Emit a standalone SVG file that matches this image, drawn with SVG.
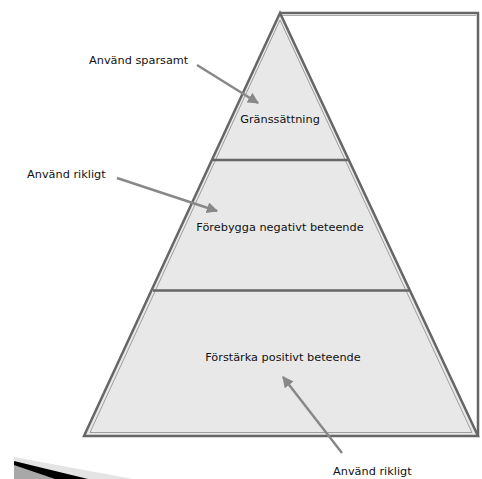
<svg xmlns="http://www.w3.org/2000/svg" width="482" height="479" viewBox="0 0 482 479">
<style>
.lbl{font-family:"DejaVu Sans","Verdana",sans-serif;font-size:11.3px;fill:#111}
.edge{fill:none;stroke:#666;stroke-width:2.5;stroke-linejoin:miter}
.inner{fill:none;stroke:#8a8a8a;stroke-width:0.8}
.arr{stroke:#888;stroke-width:2.5;fill:none;marker-end:url(#ah)}
</style>
<defs>
<marker id="ah" viewBox="0 0 10 10" refX="9" refY="5" markerWidth="4.5" markerHeight="4.5" orient="auto" markerUnits="strokeWidth">
<path d="M0,0 L10,5 L0,10 z" fill="#888"/>
</marker>
</defs>
<rect width="482" height="479" fill="#fff"/>
<g id="frame">
<polyline class="edge" points="280,13 478,13 478,436"/>
<line x1="281" y1="15.5" x2="476" y2="15.5" stroke="#aaa" stroke-width="1"/>
</g>
<g id="pyramid">
<polygon points="280,13 84,436 478,436" fill="#e8e8e8"/>
<polygon class="inner" points="280,20 90,432.5 472,432.5"/>
<polygon class="edge" points="280,13 84,436 478,436"/>
</g>
<g id="level-top">
<line class="edge" x1="213" y1="160" x2="349" y2="160"/>
<text class="lbl" x="280" y="123" text-anchor="middle">Gränssättning</text>
</g>
<g id="level-middle">
<line class="edge" x1="153" y1="290.5" x2="410" y2="290.5"/>
<text class="lbl" x="280" y="231" text-anchor="middle">Förebygga negativt beteende</text>
</g>
<g id="level-bottom">
<text class="lbl" x="283" y="361" text-anchor="middle">Förstärka positivt beteende</text>
</g>
<g id="labels">
<text class="lbl" x="89" y="64">Använd sparsamt</text>
<text class="lbl" x="27" y="178">Använd rikligt</text>
<text class="lbl" x="333" y="475">Använd rikligt</text>
</g>
<g id="connectors">
<line class="arr" x1="197" y1="65" x2="258" y2="103"/>
<line class="arr" x1="117" y1="178" x2="217" y2="211"/>
<line class="arr" x1="342" y1="453" x2="283" y2="377"/>
</g>
<g id="corner-artifact">
<polygon points="14,457 133,479 14,479" fill="#e4e4e4"/>
<polygon points="14,461 88,479 14,479" fill="#000"/>
<polygon points="14,465 55,479 14,479" fill="#a8a8a8"/>
</g>
</svg>
